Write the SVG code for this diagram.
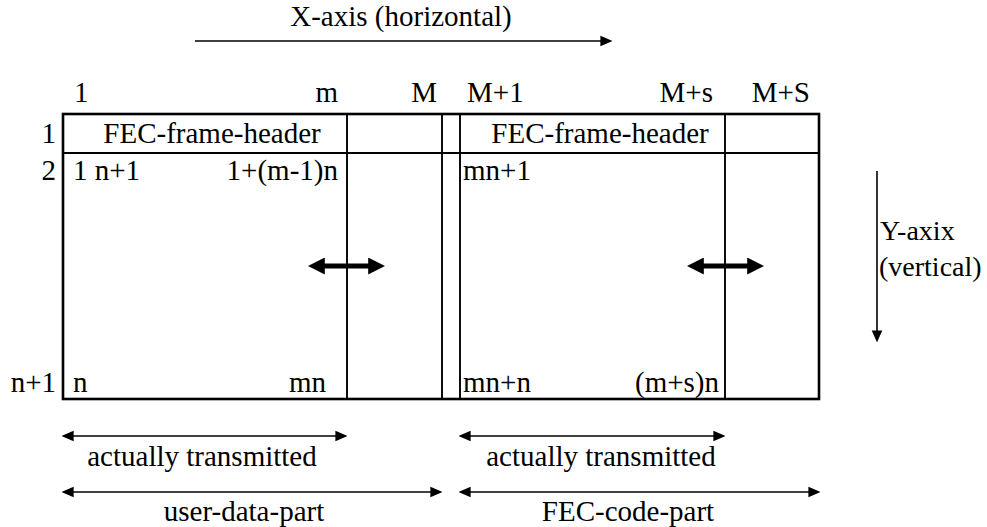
<svg xmlns="http://www.w3.org/2000/svg" width="987" height="527" viewBox="0 0 987 527">
<style>
text{font-family:"Liberation Serif","Times New Roman",Tinos,serif;font-size:29px;fill:#000}
.y{font-size:28px}
.b{fill:none;stroke:#000;stroke-width:2.6}
.h{fill:none;stroke:#000;stroke-width:2.2}
.t{fill:none;stroke:#000;stroke-width:1.9}
.a{stroke:#000;stroke-width:1.6;fill:none}
.k{stroke:#000;stroke-width:4.8;fill:none}
</style>
<defs>
<marker id="ah" viewBox="0 0 10 10" refX="8" refY="5" markerWidth="12" markerHeight="12" markerUnits="userSpaceOnUse" orient="auto-start-reverse"><path d="M0,0.6 L10,5 L0,9.4 Z" fill="#000"/></marker>
<marker id="ahb" viewBox="0 0 10 10" refX="4" refY="5" markerWidth="17" markerHeight="17" markerUnits="userSpaceOnUse" orient="auto-start-reverse"><path d="M0,0 L10,5 L0,10 Z" fill="#000"/></marker>
</defs>
<g id="table">
<rect class="b" x="63" y="114" width="756" height="285"/>
<line class="h" x1="63" y1="153" x2="819" y2="153"/>
<line class="t" x1="347" y1="114" x2="347" y2="399"/>
<line class="t" x1="442" y1="114" x2="442" y2="399"/>
<line class="t" x1="460" y1="114" x2="460" y2="399"/>
<line class="t" x1="725" y1="114" x2="725" y2="399"/>
</g>
<g id="col-labels">
<text x="74" y="102">1</text>
<text x="338" y="102" text-anchor="end">m</text>
<text x="437" y="102" text-anchor="end">M</text>
<text x="467" y="102">M+1</text>
<text x="713" y="102" text-anchor="end">M+s</text>
<text x="810" y="102" text-anchor="end">M+S</text>
</g>
<g id="row-labels">
<text x="56" y="143" text-anchor="end">1</text>
<text x="56" y="180" text-anchor="end">2</text>
<text x="56" y="392" text-anchor="end">n+1</text>
</g>
<g id="cells">
<text x="212" y="143" text-anchor="middle">FEC-frame-header</text>
<text x="600" y="143" text-anchor="middle">FEC-frame-header</text>
<text x="73" y="180">1 n+1</text>
<text x="338" y="180" text-anchor="end">1+(m-1)n</text>
<text x="463" y="180">mn+1</text>
<text x="73" y="392">n</text>
<text x="326" y="392" text-anchor="end">mn</text>
<text x="463" y="392">mn+n</text>
<text x="719" y="392" text-anchor="end">(m+s)n</text>
</g>
<g id="x-axis">
<text x="401" y="26" text-anchor="middle">X-axis (horizontal)</text>
</g>
<g id="y-axis">
<text class="y" x="880" y="240">Y-axix</text>
<text class="y" x="879" y="276">(vertical)</text>
</g>
<g id="labels">
<text x="202" y="466" text-anchor="middle">actually transmitted</text>
<text x="244" y="521" text-anchor="middle">user-data-part</text>
<text x="601" y="466" text-anchor="middle">actually transmitted</text>
<text x="628" y="521" text-anchor="middle">FEC-code-part</text>
</g>
<g id="connectors">
<line class="a" x1="195" y1="41" x2="610" y2="41" marker-end="url(#ah)"/>
<line class="a" x1="877" y1="171" x2="877" y2="340" marker-end="url(#ah)"/>
<line class="k" x1="318" y1="266" x2="375" y2="266" marker-start="url(#ahb)" marker-end="url(#ahb)"/>
<line class="k" x1="697" y1="266" x2="754" y2="266" marker-start="url(#ahb)" marker-end="url(#ahb)"/>
<line class="a" x1="64" y1="436" x2="345" y2="436" marker-start="url(#ah)" marker-end="url(#ah)"/>
<line class="a" x1="64" y1="492" x2="440" y2="492" marker-start="url(#ah)" marker-end="url(#ah)"/>
<line class="a" x1="461" y1="436" x2="723" y2="436" marker-start="url(#ah)" marker-end="url(#ah)"/>
<line class="a" x1="461" y1="492" x2="818" y2="492" marker-start="url(#ah)" marker-end="url(#ah)"/>
</g>
</svg>
